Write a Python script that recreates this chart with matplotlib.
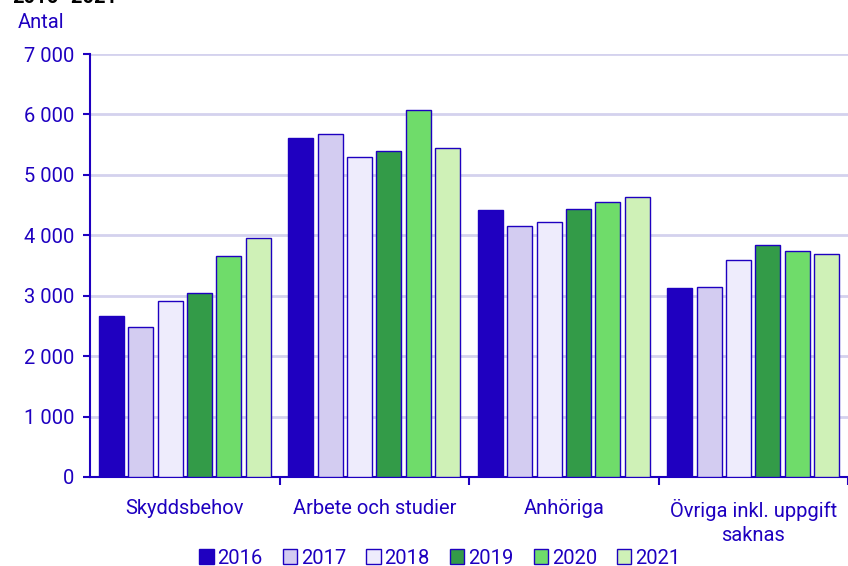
import numpy as np
import matplotlib.pyplot as plt
from matplotlib.patches import Patch

plt.rcParams['font.family'] = ['Roboto', 'DejaVu Sans']

categories = ["Skyddsbehov", "Arbete och studier", "Anhöriga",
              "Övriga inkl. uppgift\nsaknas"]
years = ["2016", "2017", "2018", "2019", "2020", "2021"]
values = {
    "2016": [2665, 5605, 4413, 3133],
    "2017": [2482, 5671, 4154, 3149],
    "2018": [2912, 5300, 4225, 3586],
    "2019": [3050, 5395, 4430, 3839],
    "2020": [3662, 6068, 4551, 3740],
    "2021": [3950, 5439, 4638, 3685],
}
colors = ["#1f00c0", "#d3ccf1", "#eeecfc", "#339b48", "#6fdc6a", "#cff1b7"]

blue = "#1e00c0"
grid_col = "#d4d2ee"
fs = 14.5

fig = plt.figure(figsize=(8.48, 5.66), dpi=100)
ax = fig.add_axes([90 / 848, 1 - 477 / 566, 1 - 90 / 848, (477 - 54) / 566])

x = np.arange(len(categories))
step = 0.1555
width = 0.132
for i, yr in enumerate(years):
    ax.bar(x + (i - 2.5) * step, values[yr], width, color=colors[i],
           edgecolor=blue, linewidth=1.0, label=yr, zorder=3)

ax.set_xlim(-0.5, len(categories) - 0.5)
ax.set_ylim(0, 7000)
ax.set_yticks(range(0, 7001, 1000))
ax.set_yticklabels([f"{v:,}".replace(",", " ") for v in range(0, 7001, 1000)])
ax.grid(axis="y", color=grid_col, linewidth=2, zorder=0)

# group separators as ticks on the x axis
ax.set_xticks(np.arange(len(categories)) + 0.5, minor=False)
ax.set_xticklabels([])
ax.tick_params(axis="x", length=6, width=1.5, color=blue, direction="out")
ax.set_xticks(x, minor=True)
ax.set_xticklabels(categories, minor=True, linespacing=1.3)
ax.tick_params(axis="x", which="minor", length=0, pad=16, labelsize=fs,
               labelcolor=blue)
ax.tick_params(axis="y", length=5, width=1.5, color=blue, labelsize=fs,
               labelcolor=blue, pad=6)

for s in ["top", "right"]:
    ax.spines[s].set_visible(False)
ax.spines["left"].set_color(blue)
ax.spines["left"].set_linewidth(1.5)
ax.spines["bottom"].set_color(blue)
ax.spines["bottom"].set_linewidth(1.5)

fig.text(18 / 848, 1 - 22 / 566, "Antal", color=blue, fontsize=fs,
         va="center", ha="left")
fig.text(12 / 848, 1 - 3 / 566, "2016–2021", color="black", fontsize=fs,
         fontweight="bold", va="baseline", ha="left")

handles = [Patch(facecolor=c, edgecolor=blue, linewidth=1.0) for c in colors]
fig.legend(handles, years, loc="center", bbox_to_anchor=(440 / 848, 1 - 558 / 566),
           ncol=6, frameon=False, fontsize=fs, labelcolor=blue,
           handlelength=0.7, handleheight=0.7, handletextpad=0.2,
           columnspacing=1.0, borderaxespad=0)

fig.savefig("out.png", dpi=100)
